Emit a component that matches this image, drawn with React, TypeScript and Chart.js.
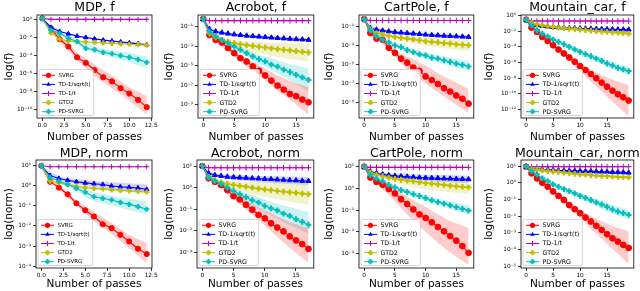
import React, { useEffect, useRef } from "react";
import { Chart, registerables } from "chart.js";

Chart.register(...registerables);

const FONT = "'DejaVu Sans', 'Liberation Sans', sans-serif";

// ---------- shared labels ----------
const seriesLabels = ["SVRG", "TD-1/sqrt(t)", "TD-1/t", "GTD2", "PD-SVRG"];
const xAxisLabel = "Number of passes";
const seriesColors = ["#ff0000", "#0000ff", "#bf00bf", "#bfbf00", "#00bfbf"];
const bandColors = ["rgba(255,0,0,0.2)", "rgba(0,0,255,0.17)", "rgba(191,0,191,0.2)", "rgba(191,191,0,0.2)", "rgba(0,191,191,0.2)"];
const markerStyles = ["circle", "triangle", "cross", "cross", "cross"];
const markerBorder = [1, 1, 1, 2.2, 2.2];

// All series values below are log10 of the plotted quantity.

// ---------- MDP, f ----------
const mdpF_svrg = [0.1, -1.0, -2.2, -3.0, -4.2, -4.8, -5.6, -6.4, -6.85, -7.6, -8.2, -8.9, -9.7];
const mdpF_tdSqrt = [0.1, -0.9, -1.35, -1.6, -1.85, -2.0, -2.15, -2.3, -2.4, -2.5, -2.6, -2.7, -2.8];
const mdpF_tdT = [0.1, 0, 0, 0, 0, 0, 0, 0, 0, 0, 0, 0, 0];
const mdpF_gtd2 = [0.1, -1.5, -2.2, -2.4, -2.45, -2.5, -2.55, -2.6, -2.65, -2.7, -2.75, -2.8, -2.85];
const mdpF_pdsvrg = [0.1, -1.2, -1.55, -2.1, -2.45, -3.2, -3.35, -3.65, -3.8, -4.0, -4.2, -4.45, -4.75];
const mdpF_bandX = [0, 2, 4, 6, 8, 10, 12];
const mdpF_svrgLo = [0.1, -2.45, -4.5, -6.3, -7.6, -9.0, -10.5];
const mdpF_svrgHi = [0.1, -1.7, -3.7, -5.0, -6.2, -7.5, -8.5];
const mdpF_pdLo = [0.1, -1.75, -2.8, -3.7, -4.2, -4.7, -5.4];
const mdpF_pdHi = [0.1, -1.4, -2.2, -3.0, -3.45, -3.7, -4.1];
const mdpF_sqLo = [0.1, -1.45, -1.95, -2.25, -2.5, -2.7, -2.95];
const mdpF_sqHi = [0.1, -1.25, -1.75, -2.05, -2.3, -2.45, -2.65];

// ---------- Acrobot, f ----------
const acroF_svrg = [-0.22, -1.85, -2.36, -2.63, -3.2, -3.72, -4.23, -4.57, -5.08, -5.52, -6.0, -6.53, -7.04, -7.45, -7.9, -8.13, -8.47, -8.75];
const acroF_tdSqrt = [-0.22, -1.27, -1.5, -1.62, -1.72, -1.8, -1.87, -1.93, -1.98, -2.03, -2.08, -2.13, -2.17, -2.21, -2.25, -2.29, -2.32, -2.36];
const acroF_tdT = [-0.22, -0.39, -0.39, -0.39, -0.39, -0.39, -0.39, -0.39, -0.39, -0.39, -0.39, -0.39, -0.39, -0.39, -0.39, -0.39, -0.39, -0.39];
const acroF_gtd2 = [-0.22, -1.68, -2.1, -2.36, -2.55, -2.7, -2.8, -2.9, -2.98, -3.06, -3.14, -3.22, -3.3, -3.37, -3.44, -3.51, -3.58, -3.65];
const acroF_pdsvrg = [-0.22, -1.5, -2.0, -2.36, -2.7, -3.04, -3.38, -3.72, -4.05, -4.33, -4.57, -4.9, -5.1, -5.4, -5.65, -5.95, -6.2, -6.45];
const acroF_bandX = [0, 2, 4, 6, 8, 10, 12, 14, 17];
const acroF_svrgLo = [-0.22, -2.6, -3.5, -4.6, -5.6, -6.45, -7.6, -8.5, -10.0];
const acroF_svrgHi = [-0.22, -2.15, -2.95, -3.9, -4.6, -5.3, -6.0, -6.6, -7.2];
const acroF_pdLo = [-0.22, -2.15, -2.95, -3.7, -4.5, -5.1, -5.8, -6.5, -7.64];
const acroF_pdHi = [-0.22, -1.85, -2.45, -3.05, -3.6, -4.07, -4.45, -4.85, -5.26];
const acroF_gtLo = [-0.22, -2.3, -2.9, -3.3, -3.6, -3.85, -4.1, -4.3, -4.57];
const acroF_gtHi = [-0.22, -1.9, -2.25, -2.45, -2.55, -2.6, -2.65, -2.68, -2.7];
const acroF_sqLo = [-0.22, -1.6, -1.85, -2.0, -2.12, -2.22, -2.32, -2.4, -2.5];
const acroF_sqHi = [-0.22, -1.4, -1.6, -1.73, -1.83, -1.93, -2.02, -2.1, -2.2];

// ---------- CartPole, f ----------
const cartF_svrg = [-0.24, -1.69, -2.28, -2.38, -3.24, -3.76, -4.38, -4.79, -5.31, -5.66, -6.24, -6.62, -7.03, -7.48, -7.83, -8.24, -8.59, -9.1];
const cartF_tdSqrt = [-0.24, -1.17, -1.33, -1.43, -1.52, -1.6, -1.65, -1.7, -1.75, -1.8, -1.86, -1.9, -1.94, -1.98, -2.01, -2.04, -2.07, -2.1];
const cartF_tdT = [-0.24, -0.38, -0.38, -0.38, -0.38, -0.38, -0.38, -0.38, -0.38, -0.38, -0.38, -0.38, -0.38, -0.38, -0.38, -0.38, -0.38, -0.38];
const cartF_gtd2 = [-0.24, -1.28, -1.69, -1.85, -1.98, -2.1, -2.2, -2.28, -2.36, -2.45, -2.55, -2.62, -2.68, -2.75, -2.81, -2.87, -2.92, -2.97];
const cartF_pdsvrg = [-0.24, -1.41, -2.03, -2.38, -2.66, -3.0, -3.17, -3.48, -3.69, -3.93, -4.03, -4.28, -4.38, -4.55, -4.72, -4.9, -5.03, -5.2];
const cartF_bandX = [0, 2, 4, 6, 8, 10, 12, 14, 17];
const cartF_svrgLo = [-0.24, -2.45, -3.4, -4.9, -6.0, -7.0, -7.9, -8.8, -10.1];
const cartF_svrgHi = [-0.24, -2.1, -2.9, -3.9, -4.45, -5.1, -5.9, -6.6, -7.55];
const cartF_pdLo = [-0.24, -2.2, -2.9, -3.45, -3.95, -4.35, -4.75, -5.1, -5.66];
const cartF_pdHi = [-0.24, -1.85, -2.45, -2.9, -3.4, -3.7, -4.0, -4.25, -4.62];
const cartF_gtLo = [-0.24, -1.85, -2.2, -2.5, -2.75, -3.0, -3.2, -3.35, -3.6];
const cartF_gtHi = [-0.24, -1.55, -1.8, -1.95, -2.05, -2.15, -2.25, -2.32, -2.4];
const cartF_sqLo = [-0.24, -1.45, -1.65, -1.8, -1.9, -2.0, -2.1, -2.18, -2.3];
const cartF_sqHi = [-0.24, -1.22, -1.4, -1.5, -1.6, -1.7, -1.77, -1.82, -1.9];

// ---------- Mountain_car, f ----------
const mcF_svrg = [-0.55, -1.56, -2.1, -2.74, -3.25, -3.8, -4.35, -4.85, -5.36, -5.9, -6.45, -6.96, -7.47, -8.0, -8.55, -9.07, -9.58, -10.04, -10.42, -10.84];
const mcF_tdSqrt = [-0.55, -1.1, -1.25, -1.35, -1.42, -1.48, -1.52, -1.56, -1.6, -1.63, -1.66, -1.68, -1.7, -1.72, -1.74, -1.76, -1.77, -1.79, -1.8, -1.81];
const mcF_tdT = [-0.55, -0.72, -0.72, -0.72, -0.72, -0.72, -0.72, -0.72, -0.72, -0.72, -0.72, -0.72, -0.72, -0.72, -0.72, -0.72, -0.72, -0.72, -0.72, -0.72];
const mcF_gtd2 = [-0.55, -0.97, -1.15, -1.28, -1.38, -1.48, -1.55, -1.62, -1.7, -1.76, -1.81, -1.87, -1.93, -1.99, -2.05, -2.1, -2.15, -2.2, -2.26, -2.32];
const mcF_pdsvrg = [-0.55, -1.27, -1.9, -2.32, -2.66, -3.08, -3.38, -3.67, -4.0, -4.33, -4.64, -4.94, -5.2, -5.49, -5.79, -6.12, -6.37, -6.67, -6.88, -7.09];
const mcF_bandX = [0, 2, 4, 6, 8, 10, 12, 14, 16, 19];
const mcF_svrgLo = [-0.55, -2.25, -3.45, -4.65, -5.75, -7.17, -8.4, -9.7, -11.0, -12.87];
const mcF_svrgHi = [-0.55, -1.95, -3.05, -4.1, -5.0, -6.1, -6.9, -7.6, -8.2, -8.86];
const mcF_pdLo = [-0.55, -2.0, -2.8, -3.6, -4.25, -4.95, -5.55, -6.2, -6.8, -7.6];
const mcF_pdHi = [-0.55, -1.8, -2.5, -3.15, -3.75, -4.35, -4.9, -5.4, -5.95, -6.54];

// ---------- MDP, norm ----------
const mdpN_svrg = [0.97, 0.18, -0.11, -0.44, -0.89, -1.23, -1.54, -1.92, -2.11, -2.44, -2.77, -3.13, -3.39];
const mdpN_tdSqrt = [0.97, 0.48, 0.34, 0.25, 0.18, 0.12, 0.08, 0.04, -0.03, -0.07, -0.1, -0.13, -0.2];
const mdpN_tdT = [0.97, 0.92, 0.92, 0.92, 0.92, 0.92, 0.92, 0.92, 0.92, 0.92, 0.92, 0.92, 0.92];
const mdpN_gtd2 = [0.97, 0.21, 0.13, 0.02, -0.05, -0.11, -0.15, -0.18, -0.22, -0.25, -0.28, -0.3, -0.33];
const mdpN_pdsvrg = [0.97, 0.38, 0.21, 0.05, -0.15, -0.34, -0.56, -0.64, -0.72, -0.84, -0.94, -1.05, -1.18];
const mdpN_bandX = [0, 2, 4, 6, 8, 10, 12];
const mdpN_svrgLo = [0.97, -0.2, -1.0, -1.79, -2.4, -3.1, -3.84];
const mdpN_svrgHi = [0.97, -0.02, -0.75, -1.3, -1.85, -2.45, -2.85];
const mdpN_pdLo = [0.97, 0.15, -0.3, -0.8, -1.0, -1.2, -1.46];
const mdpN_pdHi = [0.97, 0.28, 0.0, -0.35, -0.5, -0.65, -0.8];
const mdpN_sqLo = [0.97, 0.25, 0.05, -0.08, -0.2, -0.28, -0.36];
const mdpN_sqHi = [0.97, 0.43, 0.3, 0.22, 0.15, 0.1, 0.05];
const mdpN_gtLo = [0.97, 0.08, -0.12, -0.22, -0.3, -0.35, -0.4];
const mdpN_gtHi = [0.97, 0.18, 0.03, -0.08, -0.14, -0.2, -0.25];

// ---------- Acrobot, norm ----------
const acroN_svrg = [1.0, 0.43, 0.27, 0.12, -0.12, -0.4, -0.55, -0.8, -1.03, -1.27, -1.43, -1.66, -1.86, -2.04, -2.27, -2.46, -2.63, -2.85];
const acroN_tdSqrt = [1.0, 0.66, 0.58, 0.54, 0.5, 0.48, 0.46, 0.45, 0.43, 0.42, 0.4, 0.39, 0.37, 0.36, 0.34, 0.33, 0.31, 0.3];
const acroN_tdT = [1.0, 0.92, 0.92, 0.92, 0.92, 0.92, 0.92, 0.92, 0.92, 0.92, 0.92, 0.92, 0.92, 0.92, 0.92, 0.92, 0.92, 0.92];
const acroN_gtd2 = [1.0, 0.51, 0.35, 0.24, 0.17, 0.12, 0.08, 0.04, 0.0, -0.05, -0.09, -0.12, -0.16, -0.19, -0.22, -0.25, -0.28, -0.31];
const acroN_pdsvrg = [1.0, 0.46, 0.3, 0.17, 0.0, -0.16, -0.31, -0.45, -0.59, -0.7, -0.85, -0.97, -1.06, -1.21, -1.32, -1.47, -1.6, -1.73];
const acroN_bandX = [0, 2, 4, 6, 8, 10, 12, 14, 17];
const acroN_svrgLo = [1.0, 0.2, -0.3, -0.8, -1.25, -1.77, -2.3, -2.8, -3.51];
const acroN_svrgHi = [1.0, 0.33, 0.0, -0.4, -0.75, -1.06, -1.35, -1.6, -1.89];
const acroN_pdLo = [1.0, 0.22, -0.12, -0.5, -0.85, -1.15, -1.45, -1.75, -2.15];
const acroN_pdHi = [1.0, 0.38, 0.1, -0.15, -0.35, -0.55, -0.75, -0.9, -1.14];
const acroN_gtLo = [1.0, 0.25, 0.0, -0.15, -0.3, -0.42, -0.55, -0.65, -0.81];
const acroN_gtHi = [1.0, 0.42, 0.3, 0.25, 0.25, 0.25, 0.26, 0.26, 0.27];
const acroN_sqLo = [1.0, 0.5, 0.4, 0.33, 0.28, 0.23, 0.19, 0.16, 0.12];
const acroN_sqHi = [1.0, 0.65, 0.6, 0.57, 0.55, 0.53, 0.52, 0.51, 0.5];

// ---------- CartPole, norm ----------
const cartN_svrg = [1.0, 0.5, 0.3, 0.17, -0.03, -0.23, -0.5, -0.72, -0.97, -1.2, -1.36, -1.56, -1.78, -1.98, -2.2, -2.41, -2.66, -2.97];
const cartN_tdSqrt = [1.0, 0.77, 0.7, 0.65, 0.61, 0.58, 0.56, 0.54, 0.52, 0.5, 0.49, 0.48, 0.47, 0.46, 0.45, 0.44, 0.43, 0.42];
const cartN_tdT = [1.0, 0.97, 0.97, 0.97, 0.97, 0.97, 0.97, 0.97, 0.97, 0.97, 0.97, 0.97, 0.97, 0.97, 0.97, 0.97, 0.97, 0.97];
const cartN_gtd2 = [1.0, 0.72, 0.64, 0.56, 0.5, 0.44, 0.4, 0.36, 0.33, 0.29, 0.25, 0.22, 0.19, 0.16, 0.13, 0.1, 0.07, 0.05];
const cartN_pdsvrg = [1.0, 0.61, 0.45, 0.33, 0.16, 0.05, -0.08, -0.16, -0.27, -0.35, -0.45, -0.55, -0.63, -0.7, -0.78, -0.86, -0.94, -1.02];
const cartN_bandX = [0, 2, 4, 6, 8, 10, 12, 14, 17];
const cartN_svrgLo = [1.0, 0.2, -0.3, -0.9, -1.5, -2.0, -2.5, -2.95, -3.52];
const cartN_svrgHi = [1.0, 0.4, 0.15, -0.2, -0.55, -0.85, -1.2, -1.5, -1.83];
const cartN_pdLo = [1.0, 0.38, 0.05, -0.2, -0.4, -0.58, -0.77, -0.95, -1.2];
const cartN_pdHi = [1.0, 0.52, 0.27, 0.05, -0.15, -0.32, -0.48, -0.6, -0.78];
const cartN_gtLo = [1.0, 0.55, 0.35, 0.2, 0.08, -0.04, -0.12, -0.18, -0.27];
const cartN_gtHi = [1.0, 0.72, 0.6, 0.52, 0.47, 0.44, 0.41, 0.39, 0.36];
const cartN_sqLo = [1.0, 0.62, 0.52, 0.44, 0.39, 0.35, 0.31, 0.28, 0.25];
const cartN_sqHi = [1.0, 0.77, 0.7, 0.67, 0.65, 0.63, 0.62, 0.61, 0.6];

// ---------- Mountain_car, norm ----------
const mcN_svrg = [0.96, 0.56, 0.26, 0.0, -0.24, -0.52, -0.79, -1.03, -1.34, -1.58, -1.82, -2.08, -2.32, -2.58, -2.82, -3.08, -3.32, -3.52, -3.72, -3.9];
const mcN_tdSqrt = [0.96, 0.86, 0.83, 0.8, 0.78, 0.76, 0.74, 0.73, 0.72, 0.71, 0.7, 0.69, 0.68, 0.67, 0.66, 0.65, 0.64, 0.63, 0.62, 0.6];
const mcN_tdT = [0.96, 0.96, 0.96, 0.96, 0.96, 0.96, 0.96, 0.96, 0.96, 0.96, 0.96, 0.96, 0.96, 0.96, 0.96, 0.96, 0.96, 0.96, 0.96, 0.96];
const mcN_gtd2 = [0.96, 0.82, 0.78, 0.74, 0.7, 0.66, 0.63, 0.6, 0.57, 0.53, 0.5, 0.48, 0.45, 0.43, 0.41, 0.39, 0.37, 0.35, 0.33, 0.32];
const mcN_pdsvrg = [0.96, 0.7, 0.5, 0.26, 0.1, -0.1, -0.24, -0.38, -0.5, -0.64, -0.78, -0.9, -1.04, -1.18, -1.3, -1.44, -1.6, -1.72, -1.82, -1.92];
const mcN_bandX = [0, 2, 4, 6, 8, 10, 12, 14, 16, 19];
const mcN_svrgLo = [0.96, 0.2, -0.35, -0.95, -1.55, -2.1, -2.75, -3.35, -3.95, -4.86];
const mcN_svrgHi = [0.96, 0.3, -0.15, -0.65, -1.15, -1.6, -2.0, -2.3, -2.6, -2.92];
const mcN_pdLo = [0.96, 0.45, 0.0, -0.35, -0.65, -0.95, -1.25, -1.55, -1.85, -2.2];
const mcN_pdHi = [0.96, 0.55, 0.2, -0.15, -0.38, -0.62, -0.85, -1.1, -1.35, -1.6];

// ---------- axis ticks ----------
const xTicksMdp = [0, 2.5, 5, 7.5, 10, 12.5];
const xTicksLong = [0, 5, 10, 15];
const yTicksMdpF = [0, -2, -4, -6, -8, -10];
const yTicksAcroF = [-1, -3, -5, -7, -9];
const yTicksCartF = [-1, -3, -5, -7, -9];
const yTicksMcF = [0, -2, -4, -6, -8, -10, -12];
const yTicksMdpN = [1, 0, -1, -2, -3, -4];
const yTicksAcroN = [1, 0, -1, -2, -3];
const yTicksCartN = [1, 0, -1, -2, -3];
const yTicksMcN = [1, 0, -1, -2, -3, -4, -5];

type Band = [number, number[], number[]];
interface PanelDef {
  title: string;
  ylabel: string;
  col: number;
  row: number;
  box: [number, number, number, number];
  xLim: [number, number];
  xTicks: number[];
  xDec: number;
  yLim: [number, number];
  yTicks: number[];
  lines: number[][];
  bandX: number[];
  bands: Band[];
  legendFont: number;
}

const panels: PanelDef[] = [
  {
    title: "MDP, f", ylabel: "log(f)", col: 0, row: 0, box: [37, 15, 152, 118],
    xLim: [-0.6, 12.6], xTicks: xTicksMdp, xDec: 1, yLim: [-10.9, 0.48], yTicks: yTicksMdpF,
    lines: [mdpF_svrg, mdpF_tdSqrt, mdpF_tdT, mdpF_gtd2, mdpF_pdsvrg],
    bandX: mdpF_bandX, bands: [[0, mdpF_svrgLo, mdpF_svrgHi], [4, mdpF_pdLo, mdpF_pdHi], [1, mdpF_sqLo, mdpF_sqHi]],
    legendFont: 5.5,
  },
  {
    title: "Acrobot, f", ylabel: "log(f)", col: 1, row: 0, box: [38, 15, 154, 118],
    xLim: [-0.85, 17.85], xTicks: xTicksLong, xDec: 0, yLim: [-10.36, 0.19], yTicks: yTicksAcroF,
    lines: [acroF_svrg, acroF_tdSqrt, acroF_tdT, acroF_gtd2, acroF_pdsvrg],
    bandX: acroF_bandX, bands: [[0, acroF_svrgLo, acroF_svrgHi], [4, acroF_pdLo, acroF_pdHi], [3, acroF_gtLo, acroF_gtHi], [1, acroF_sqLo, acroF_sqHi]],
    legendFont: 6.3,
  },
  {
    title: "CartPole, f", ylabel: "log(f)", col: 2, row: 0, box: [39, 15, 155, 118],
    xLim: [-0.85, 17.85], xTicks: xTicksLong, xDec: 0, yLim: [-10.6, 0.2], yTicks: yTicksCartF,
    lines: [cartF_svrg, cartF_tdSqrt, cartF_tdT, cartF_gtd2, cartF_pdsvrg],
    bandX: cartF_bandX, bands: [[0, cartF_svrgLo, cartF_svrgHi], [4, cartF_pdLo, cartF_pdHi], [3, cartF_gtLo, cartF_gtHi], [1, cartF_sqLo, cartF_sqHi]],
    legendFont: 6.3,
  },
  {
    title: "Mountain_car, f", ylabel: "log(f)", col: 3, row: 0, box: [41, 15, 157, 118],
    xLim: [-0.95, 19.95], xTicks: xTicksLong, xDec: 0, yLim: [-13.06, 0.05], yTicks: yTicksMcF,
    lines: [mcF_svrg, mcF_tdSqrt, mcF_tdT, mcF_gtd2, mcF_pdsvrg],
    bandX: mcF_bandX, bands: [[0, mcF_svrgLo, mcF_svrgHi], [4, mcF_pdLo, mcF_pdHi]],
    legendFont: 6.3,
  },
  {
    title: "MDP, norm", ylabel: "log(norm)", col: 0, row: 1, box: [36, 15, 152, 123],
    xLim: [-0.6, 12.6], xTicks: xTicksMdp, xDec: 1, yLim: [-4.08, 1.25], yTicks: yTicksMdpN,
    lines: [mdpN_svrg, mdpN_tdSqrt, mdpN_tdT, mdpN_gtd2, mdpN_pdsvrg],
    bandX: mdpN_bandX, bands: [[0, mdpN_svrgLo, mdpN_svrgHi], [4, mdpN_pdLo, mdpN_pdHi], [1, mdpN_sqLo, mdpN_sqHi], [3, mdpN_gtLo, mdpN_gtHi]],
    legendFont: 5.5,
  },
  {
    title: "Acrobot, norm", ylabel: "log(norm)", col: 1, row: 1, box: [37, 15, 154, 123],
    xLim: [-0.85, 17.85], xTicks: xTicksLong, xDec: 0, yLim: [-3.74, 1.28], yTicks: yTicksAcroN,
    lines: [acroN_svrg, acroN_tdSqrt, acroN_tdT, acroN_gtd2, acroN_pdsvrg],
    bandX: acroN_bandX, bands: [[0, acroN_svrgLo, acroN_svrgHi], [4, acroN_pdLo, acroN_pdHi], [3, acroN_gtLo, acroN_gtHi], [1, acroN_sqLo, acroN_sqHi]],
    legendFont: 6.3,
  },
  {
    title: "CartPole, norm", ylabel: "log(norm)", col: 2, row: 1, box: [39, 15, 154, 123],
    xLim: [-0.85, 17.85], xTicks: xTicksLong, xDec: 0, yLim: [-3.67, 1.31], yTicks: yTicksCartN,
    lines: [cartN_svrg, cartN_tdSqrt, cartN_tdT, cartN_gtd2, cartN_pdsvrg],
    bandX: cartN_bandX, bands: [[0, cartN_svrgLo, cartN_svrgHi], [4, cartN_pdLo, cartN_pdHi], [3, cartN_gtLo, cartN_gtHi], [1, cartN_sqLo, cartN_sqHi]],
    legendFont: 6.3,
  },
  {
    title: "Mountain_car, norm", ylabel: "log(norm)", col: 3, row: 1, box: [41, 15, 157, 123],
    xLim: [-0.95, 19.95], xTicks: xTicksLong, xDec: 0, yLim: [-5.1, 1.36], yTicks: yTicksMcN,
    lines: [mcN_svrg, mcN_tdSqrt, mcN_tdT, mcN_gtd2, mcN_pdsvrg],
    bandX: mcN_bandX, bands: [[0, mcN_svrgLo, mcN_svrgHi], [4, mcN_pdLo, mcN_pdHi]],
    legendFont: 6.3,
  },
];

const CELL_W = 160;
const CELL_H = 145;

const SUP: Record<string, string> = { "-": "\u207B", "0": "\u2070", "1": "\u00B9", "2": "\u00B2", "3": "\u00B3", "4": "\u2074", "5": "\u2075", "6": "\u2076", "7": "\u2077", "8": "\u2078", "9": "\u2079" };
const powLabel = (v: number) => {
  const e = Math.round(Math.log10(v));
  return "10" + String(e).split("").map((c) => SUP[c] || c).join("");
};

const toPts = (arr: number[]) => arr.map((e, i) => ({ x: i, y: Math.pow(10, e) }));
const toBand = (xs: number[], arr: number[]) => arr.map((e, i) => ({ x: xs[i], y: Math.pow(10, e) }));

function drawMarker(ctx: CanvasRenderingContext2D, style: string, x: number, y: number, r: number, color: string, bw: number) {
  ctx.save();
  ctx.fillStyle = color;
  ctx.strokeStyle = color;
  ctx.lineWidth = bw;
  ctx.beginPath();
  if (style === "circle") {
    ctx.arc(x, y, r, 0, Math.PI * 2);
    ctx.fill();
  } else if (style === "triangle") {
    ctx.moveTo(x, y - r);
    ctx.lineTo(x + r * 0.87, y + r * 0.5);
    ctx.lineTo(x - r * 0.87, y + r * 0.5);
    ctx.closePath();
    ctx.fill();
  } else {
    ctx.moveTo(x - r, y);
    ctx.lineTo(x + r, y);
    ctx.moveTo(x, y - r);
    ctx.lineTo(x, y + r);
    ctx.stroke();
  }
  ctx.restore();
}

function makeDecor(p: PanelDef) {
  return {
    id: "decor" + p.col + p.row,
    afterDraw(chart: any) {
      const ctx: CanvasRenderingContext2D = chart.ctx;
      const a = chart.chartArea;
      ctx.save();
      ctx.strokeStyle = "#000";
      ctx.lineWidth = 0.8;
      ctx.strokeRect(a.left, a.top, a.right - a.left, a.bottom - a.top);
      ctx.fillStyle = "#000";
      ctx.textAlign = "center";
      ctx.textBaseline = "middle";
      ctx.font = `12.5px ${FONT}`;
      ctx.fillText(p.title, (a.left + a.right) / 2, p.row === 0 ? 7.5 : 9);
      ctx.font = `10.5px ${FONT}`;
      ctx.fillText(xAxisLabel, (a.left + a.right) / 2, p.row === 0 ? 137 : 139);
      ctx.save();
      ctx.translate(9, (a.top + a.bottom) / 2);
      ctx.rotate(-Math.PI / 2);
      ctx.font = `10.5px ${FONT}`;
      ctx.fillText(p.ylabel, 0, 0);
      ctx.restore();

      // legend (lower left inside axes)
      const f = p.legendFont;
      ctx.font = `${f}px ${FONT}`;
      const tw = Math.max(...seriesLabels.map((s) => ctx.measureText(s).width));
      const rowH = 9.1;
      const bx = a.left + 2;
      const bh = 46;
      const by = a.bottom - 2.5 - bh;
      const handle0 = bx + 3;
      const handle1 = bx + 16;
      const textX = bx + 19.5;
      const bw = textX - bx + tw + 3;
      ctx.fillStyle = "rgba(255,255,255,0.8)";
      ctx.strokeStyle = "#cccccc";
      ctx.lineWidth = 0.8;
      ctx.beginPath();
      const rr = 1.5;
      ctx.moveTo(bx + rr, by);
      ctx.lineTo(bx + bw - rr, by);
      ctx.quadraticCurveTo(bx + bw, by, bx + bw, by + rr);
      ctx.lineTo(bx + bw, by + bh - rr);
      ctx.quadraticCurveTo(bx + bw, by + bh, bx + bw - rr, by + bh);
      ctx.lineTo(bx + rr, by + bh);
      ctx.quadraticCurveTo(bx, by + bh, bx, by + bh - rr);
      ctx.lineTo(bx, by + rr);
      ctx.quadraticCurveTo(bx, by, bx + rr, by);
      ctx.closePath();
      ctx.fill();
      ctx.stroke();
      ctx.textAlign = "left";
      ctx.textBaseline = "middle";
      seriesLabels.forEach((lab, i) => {
        const y = by + 5.8 + i * rowH;
        ctx.strokeStyle = seriesColors[i];
        ctx.lineWidth = 1;
        ctx.beginPath();
        ctx.moveTo(handle0, y);
        ctx.lineTo(handle1, y);
        ctx.stroke();
        drawMarker(ctx, markerStyles[i], (handle0 + handle1) / 2, y, 2.6, seriesColors[i], markerBorder[i]);
        ctx.fillStyle = "#000";
        ctx.fillText(lab, textX, y + 0.3);
      });
      ctx.restore();
    },
  };
}

function PanelChart({ p }: { p: PanelDef }) {
  const ref = useRef<HTMLCanvasElement | null>(null);
  useEffect(() => {
    if (!ref.current) return;
    const datasets: any[] = [];
    p.bands.forEach(([si, lo, hi]) => {
      datasets.push({
        data: toBand(p.bandX, lo), borderWidth: 0, pointRadius: 0, fill: false, order: 10,
        borderColor: "rgba(0,0,0,0)", backgroundColor: "rgba(0,0,0,0)",
      });
      datasets.push({
        data: toBand(p.bandX, hi), borderWidth: 0, pointRadius: 0, fill: "-1", order: 10,
        borderColor: "rgba(0,0,0,0)", backgroundColor: bandColors[si],
      });
    });
    p.lines.forEach((arr, i) => {
      datasets.push({
        label: seriesLabels[i],
        data: toPts(arr),
        borderColor: seriesColors[i],
        backgroundColor: seriesColors[i],
        borderWidth: 1.1,
        pointStyle: markerStyles[i],
        pointRadius: p.legendFont < 6 ? 2.6 : 2.9,
        pointBorderWidth: markerBorder[i],
        pointBackgroundColor: seriesColors[i],
        pointBorderColor: seriesColors[i],
        fill: false,
        tension: 0,
        order: 5 - i,
      });
    });
    const tickFont = { family: FONT, size: 5.8 };
    const chart = new Chart(ref.current, {
      type: "line",
      data: { datasets },
      options: {
        animation: false,
        responsive: false,
        maintainAspectRatio: false,
        devicePixelRatio: 1,
        layout: { padding: { left: 0, top: p.box[1], right: CELL_W - p.box[2], bottom: 0 } },
        plugins: { legend: { display: false }, tooltip: { enabled: false }, title: { display: false } },
        scales: {
          x: {
            type: "linear",
            min: p.xLim[0],
            max: p.xLim[1],
            afterBuildTicks: (s: any) => { s.ticks = p.xTicks.map((v) => ({ value: v })); },
            afterFit: (s: any) => { s.height = CELL_H - p.box[3]; },
            ticks: { callback: (v: any) => Number(v).toFixed(p.xDec), font: tickFont, color: "#000", padding: 1.5, maxRotation: 0, autoSkip: false },
            grid: { drawOnChartArea: false, drawTicks: true, tickLength: 3, color: "#000", lineWidth: 0.8 },
            border: { display: false },
          },
          y: {
            type: "logarithmic",
            min: Math.pow(10, p.yLim[0]),
            max: Math.pow(10, p.yLim[1]),
            afterBuildTicks: (s: any) => { s.ticks = p.yTicks.map((e) => ({ value: Math.pow(10, e) })); },
            afterFit: (s: any) => { s.width = p.box[0]; },
            ticks: { callback: (v: any) => powLabel(Number(v)), font: tickFont, color: "#000", padding: 2, autoSkip: false },
            grid: { drawOnChartArea: false, drawTicks: true, tickLength: 3, color: "#000", lineWidth: 0.8 },
            border: { display: false },
          },
        },
      } as any,
      plugins: [makeDecor(p)],
    });
    return () => chart.destroy();
  }, [p]);
  return (
    <canvas
      ref={ref}
      width={CELL_W}
      height={CELL_H}
      style={{ position: "absolute", left: p.col * CELL_W, top: p.row * CELL_H, width: CELL_W, height: CELL_H }}
    />
  );
}

export default function App() {
  return (
    <div style={{ position: "absolute", left: 0, top: 0, width: 640, height: 291, background: "#fff", overflow: "hidden" }}>
      {panels.map((p) => (
        <PanelChart key={p.title} p={p} />
      ))}
    </div>
  );
}
